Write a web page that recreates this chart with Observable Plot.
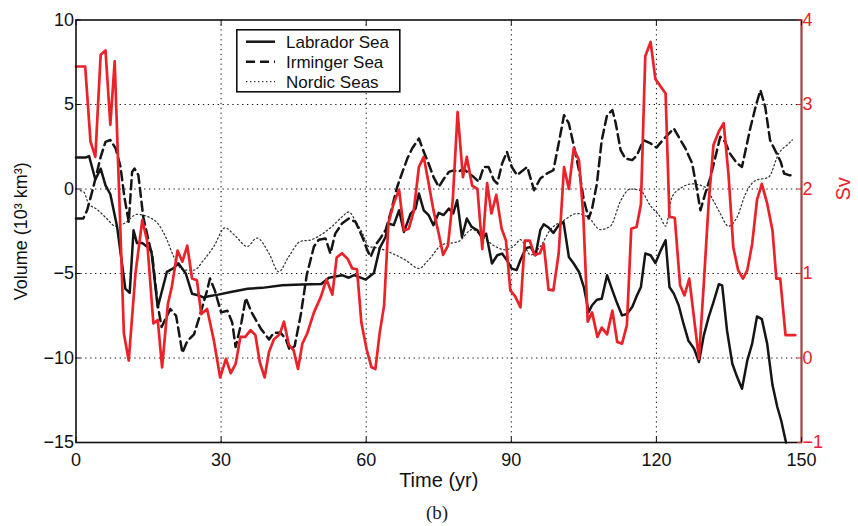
<!DOCTYPE html>
<html><head><meta charset="utf-8">
<script src="https://cdn.jsdelivr.net/npm/d3@7"></script>
<script src="https://cdn.jsdelivr.net/npm/@observablehq/plot@0.6"></script>
<style>
body{margin:0;background:#fff;}
#wrap{position:relative;width:858px;height:526px;font-family:"Liberation Sans",Arial,sans-serif;overflow:hidden;}
#legend{position:absolute;left:236px;top:29px;}
#caption{position:absolute;left:0;top:502px;width:874px;text-align:center;font-family:"Liberation Serif","DejaVu Serif",serif;font-size:19px;color:#222;}
</style></head>
<body><div id="wrap"></div>
<script>
// ---- data (time in years; volumes in 10^3 km^3; transport in Sv) ----
const xDomain = [0, 150];
const yDomain = [-15, 10];
const xTicks = [0, 30, 60, 90, 120, 150];
const xGrid = [30, 60, 90, 120];
const yTicks = [-15, -10, -5, 0, 5, 10];
const yGrid = [-10, -5, 0, 5];
const svTicks = [-1, 0, 1, 2, 3, 4];
const seriesNames = ["Labrador Sea", "Irminger Sea", "Nordic Seas"];

const labrador = [[0,1.87],[1.1,1.87],[2.1,1.87],[2.7,1.95],[4.0,0.56],[5.1,1.2],[6.1,0.22],[7.1,-0.31],[8.5,-2.24],[10.2,-5.9],[11.1,-6.15],[11.9,-2.44],[12.6,-3.2],[13.7,-3.2],[15.1,-3.5],[15.6,-3.7],[16.9,-7.0],[18.8,-4.9],[20.1,-4.7],[21.2,-4.4],[22.7,-5.0],[24.0,-6.2],[25.4,-6.3],[26.4,-6.43],[27.4,-6.35],[29.4,-6.25],[32.0,-6.1],[35.5,-5.9],[38.5,-5.85],[42.6,-5.7],[46.6,-5.65],[50.7,-5.62],[52.3,-5.25],[55.0,-5.1],[56.4,-5.25],[57.5,-5.1],[59.9,-5.36],[61.6,-4.97],[62.8,-3.5],[64.0,-2.84],[64.6,-2.04],[65.7,-2.14],[66.8,-1.26],[67.8,-2.54],[69.2,-1.45],[70.2,-1.16],[70.9,-0.27],[71.9,-1.26],[72.9,-1.54],[73.9,-2.14],[75.0,-1.41],[76.0,-1.54],[77.1,-1.16],[78.0,-1.45],[78.8,-0.66],[79.8,-2.84],[80.8,-1.75],[81.8,-2.24],[83.0,-2.44],[84.0,-2.93],[84.8,-2.64],[86.0,-4.41],[87.1,-3.92],[88.1,-3.82],[89.1,-4.22],[90.1,-4.71],[91.1,-4.8],[91.9,-4.2],[93.0,-3.5],[94.0,-3.43],[95.0,-3.92],[96.0,-2.44],[96.7,-2.09],[97.7,-2.28],[98.7,-2.6],[99.8,-2.14],[100.8,-1.95],[101.9,-4.02],[102.9,-4.41],[104.0,-4.91],[105.0,-5.8],[106.0,-7.28],[106.7,-6.88],[107.7,-6.55],[108.7,-6.5],[109.8,-5.1],[110.9,-6.0],[111.9,-6.78],[112.9,-7.48],[113.9,-7.4],[115.0,-6.98],[116.0,-6.29],[116.8,-5.8],[117.7,-3.82],[118.8,-3.92],[119.8,-4.38],[120.9,-3.63],[121.9,-3.03],[122.7,-5.8],[123.6,-6.19],[124.6,-6.88],[125.6,-7.97],[126.6,-8.96],[127.8,-9.45],[128.8,-10.24],[129.8,-8.66],[130.8,-7.58],[131.8,-6.69],[132.9,-5.64],[133.6,-5.7],[134.6,-8.37],[135.7,-10.34],[136.7,-11.13],[137.7,-11.82],[138.8,-10.14],[139.8,-9.15],[140.8,-7.54],[141.8,-7.7],[142.9,-9.15],[144.0,-11.6],[145.0,-12.9],[145.8,-13.7],[146.8,-15.0]];

const irminger = [[0,-1.75],[1.5,-1.75],[2.3,-1.26],[3.6,0.12],[5.1,1.9],[6.1,2.79],[7.1,2.9],[8.2,2.4],[9.2,1.31],[10.0,-0.47],[10.9,-1.95],[11.6,1.01],[12.1,1.21],[12.9,0.82],[13.9,-1.65],[14.9,-2.93],[15.8,-4.02],[16.9,-6.88],[17.7,-8.17],[19.5,-7.1],[20.7,-7.5],[22.0,-9.7],[23.0,-9.0],[24.4,-8.6],[25.7,-7.4],[27.1,-6.0],[27.7,-5.3],[28.7,-6.0],[30.0,-7.3],[31.3,-7.2],[32.3,-7.9],[33.0,-9.35],[34.2,-7.9],[35.1,-6.45],[36.3,-7.3],[38.3,-8.3],[39.9,-8.9],[40.9,-8.5],[42.3,-8.5],[43.4,-8.9],[44.2,-9.55],[45.2,-9.3],[46.5,-7.4],[47.7,-5.1],[49.2,-3.4],[50.2,-3.0],[51.6,-2.93],[52.6,-3.82],[53.6,-2.64],[55.0,-2.04],[56.4,-1.75],[57.8,-1.95],[59.2,-2.84],[60.2,-3.6],[60.9,-4.02],[61.9,-3.33],[62.9,-2.93],[64.0,-2.44],[65.0,-1.45],[66.4,0.12],[67.5,1.01],[68.5,1.8],[69.5,2.4],[70.9,2.99],[71.9,2.2],[72.9,1.51],[73.9,0.72],[75.0,0.12],[76.1,0.62],[77.1,1.01],[78.1,1.1],[79.1,1.01],[80.1,1.21],[81.2,0.92],[82.2,0.72],[83.3,0.42],[84.3,1.31],[85.3,1.3],[86.4,0.52],[87.1,0.32],[88.1,1.51],[89.1,2.2],[90.1,1.3],[91.2,0.82],[93.3,1.31],[94.7,-0.07],[96.0,0.62],[97.4,0.92],[98.7,1.11],[99.8,2.7],[100.9,4.37],[101.9,3.88],[102.9,2.59],[104.0,1.11],[105.0,-0.66],[106.0,-1.75],[106.7,-1.16],[107.7,0.32],[108.7,2.89],[109.8,4.37],[110.9,4.67],[111.6,3.88],[112.6,2.3],[113.6,1.8],[115.0,1.71],[116.0,2.0],[117.3,2.89],[118.8,2.7],[120.0,2.45],[121.5,2.95],[123.6,3.58],[126.0,2.4],[127.4,1.51],[128.4,-0.07],[129.1,-1.26],[130.1,-0.27],[131.2,0.72],[132.2,1.9],[133.2,3.09],[134.2,2.79],[135.2,2.1],[136.7,1.51],[137.7,1.31],[139.4,3.58],[140.5,4.86],[141.5,5.85],[142.5,4.86],[143.5,2.89],[144.7,2.2],[145.7,1.61],[146.4,0.92],[147.4,0.82],[148.1,0.82]];

const nordic = [[0.9,-0.1],[1.6,-0.17],[2.6,-0.86],[4.3,-1.2],[6.2,-1.7],[8.2,-2.2],[10.2,-2.0],[12.6,-1.5],[15.3,-1.7],[16.8,-2.0],[18.8,-3.0],[20.2,-4.0],[22.3,-4.8],[24.4,-4.8],[26.4,-4.2],[28.5,-3.4],[30.8,-2.3],[33.0,-2.8],[35.4,-3.4],[37.4,-2.9],[39.9,-3.8],[41.9,-4.9],[44.0,-4.0],[46.4,-3.1],[48.7,-3.0],[50.7,-2.7],[53.0,-2.2],[55.0,-1.65],[56.4,-1.36],[57.8,-1.9],[59.2,-2.6],[60.5,-3.4],[62.6,-3.5],[65.3,-3.8],[68.1,-4.2],[70.9,-4.7],[72.9,-4.2],[75.7,-3.3],[79.1,-3.1],[81.9,-2.4],[84.0,-2.8],[86.7,-3.4],[88.8,-3.6],[90.8,-3.3],[91.9,-3.0],[94.0,-3.9],[96.0,-3.4],[98.1,-2.4],[100.9,-1.85],[103.6,-1.45],[106.0,-1.7],[108.4,-2.4],[110.5,-2.2],[112.6,-0.7],[114.6,0.0],[116.7,-0.1],[118.8,-1.0],[120.9,-1.7],[121.9,-2.2],[123.2,-0.5],[125.3,0.1],[127.4,0.3],[130.1,0.1],[131.8,-0.7],[133.2,-1.45],[134.9,-2.2],[136.7,-1.65],[138.4,-0.3],[140.5,0.5],[143.2,0.7],[145.3,2.1],[147.4,2.7],[148.1,2.9]];

// transport, right axis (Sv)
const transport = [[0,3.45],[1.9,3.45],[3.0,2.56],[4.0,2.38],[5.1,3.59],[6.1,3.64],[7.1,2.76],[8.0,3.51],[9.9,0.29],[10.9,-0.03],[12.3,1.0],[13.7,1.63],[14.7,1.39],[16.0,0.41],[16.9,0.45],[17.8,-0.11],[19.0,0.64],[19.8,0.84],[21.0,1.27],[22.0,1.14],[23.0,1.33],[24.0,0.94],[25.0,0.92],[25.9,0.52],[27.1,0.58],[28.5,0.21],[29.8,-0.23],[31.0,-0.01],[32.0,-0.18],[33.0,-0.07],[34.0,0.25],[35.0,0.25],[36.1,0.33],[37.1,0.27],[38.0,-0.05],[39.0,-0.23],[39.9,0.07],[40.9,0.22],[42.1,0.28],[43.0,0.43],[44.0,0.16],[45.0,0.09],[45.9,-0.13],[46.8,0.17],[47.8,0.29],[49.2,0.54],[50.6,0.72],[51.8,0.93],[53.0,0.75],[53.9,1.19],[55.0,1.24],[56.2,1.17],[57.1,1.06],[58.1,1.05],[59.0,0.42],[60.1,0.1],[61.1,-0.11],[61.9,-0.13],[62.8,0.3],[63.7,0.62],[64.6,1.6],[65.7,1.83],[66.8,1.99],[67.8,1.51],[68.8,1.53],[69.8,1.73],[70.9,2.26],[71.9,2.38],[72.9,2.07],[73.9,1.75],[75.0,1.47],[75.9,1.22],[76.9,1.33],[77.9,1.87],[78.9,2.91],[80.0,2.14],[80.8,2.38],[81.9,2.04],[83.0,2.0],[84.0,1.29],[85.0,2.07],[85.9,1.71],[86.9,1.93],[88.0,1.53],[88.9,1.39],[89.8,0.8],[90.8,0.73],[91.9,0.6],[92.8,1.39],[93.8,1.39],[94.8,1.22],[95.9,1.24],[96.7,1.35],[97.7,0.81],[98.7,0.8],[99.8,1.24],[100.9,2.26],[101.9,2.0],[102.9,2.48],[104.0,2.34],[104.9,1.67],[105.8,0.43],[106.7,0.54],[107.8,0.25],[108.7,0.36],[109.8,0.28],[110.9,0.56],[111.9,0.19],[112.9,0.17],[113.9,0.39],[114.8,1.53],[115.9,1.55],[116.8,1.82],[117.7,3.57],[118.8,3.74],[119.8,3.3],[121.9,3.13],[122.7,1.67],[123.8,1.66],[124.9,0.86],[125.8,0.74],[126.8,0.94],[128.8,-0.01],[129.8,0.88],[130.8,1.83],[131.8,2.52],[132.9,2.68],[133.9,2.78],[134.9,2.18],[135.9,1.31],[136.9,1.04],[137.9,0.94],[138.8,1.04],[139.8,1.35],[140.8,1.87],[141.8,2.06],[142.9,1.83],[144.0,1.51],[144.8,0.94],[145.6,0.94],[146.7,0.27],[148.7,0.27]];

// ---- drawing ----
const RED = "#ea2229";
const svToV = s => 5 * s - 10;   // right axis (-1..4 Sv) shares the left scale (-15..10)
const vToSv = v => (v + 10) / 5;
const fmt = d => (d < 0 ? "\u2212" + Math.abs(d) : String(d));
const X = d => d[0], Y = d => d[1];
const DOT = "1.4,2.6";

const chart = Plot.plot({
  width: 858, height: 496,
  marginLeft: 75.5, marginRight: 57, marginTop: 19.5, marginBottom: 54,
  style: {fontFamily: "'Liberation Sans', Arial, sans-serif", fontSize: "18px", color: "#111", background: "transparent", overflow: "visible"},
  x: {domain: xDomain, label: null},
  y: {domain: yDomain, label: null},
  marks: [
    Plot.gridX(xGrid, {stroke: "#111", strokeOpacity: 1, strokeWidth: 1, strokeDasharray: "1.3,3.6"}),
    Plot.gridY(yGrid, {stroke: "#111", strokeOpacity: 1, strokeWidth: 1, strokeDasharray: "1.3,3.6"}),
    Plot.line(nordic, {x: X, y: Y, stroke: "#333", strokeWidth: 1.25, strokeDasharray: DOT, curve: "monotone-x"}),
    Plot.line(irminger, {x: X, y: Y, stroke: "#151515", strokeWidth: 2.5, strokeDasharray: "9,5"}),
    Plot.line(labrador, {x: X, y: Y, stroke: "#151515", strokeWidth: 2.5}),
    Plot.line(transport, {x: X, y: d => svToV(d[1]), stroke: RED, strokeWidth: 2.7}),
    Plot.frame({stroke: "#111", strokeWidth: 1.6}),
    Plot.ruleX([xDomain[1]], {stroke: RED, strokeWidth: 1.6}),
    Plot.axisX(xTicks, {anchor: "bottom", tickSize: -5, tickPadding: 16, tickFormat: fmt, fontSize: 18, label: null}),
    Plot.axisX(xTicks, {anchor: "bottom", tickSize: 0, text: null, label: "Time (yr)", labelAnchor: "center", labelArrow: "none", labelOffset: 44, fontSize: 20}),
    Plot.axisX(xTicks, {anchor: "top", tickSize: -5, text: null, label: null}),
    Plot.axisY(yTicks, {anchor: "left", tickSize: -5, tickPadding: 7, tickFormat: fmt, label: "Volume (10\u00b3 km\u00b3)", labelAnchor: "center", labelArrow: "none", labelOffset: 62, fontSize: 18}),
    Plot.axisY(svTicks.map(svToV), {anchor: "right", tickSize: -5, tickPadding: 6, color: RED, tickFormat: v => fmt(vToSv(v)), label: null, fontSize: 18}),
    Plot.text(["Sv"], {frameAnchor: "right", dx: 42, dy: -54, rotate: -90, fill: RED, fontSize: 20})
  ]
});
const wrap = document.getElementById("wrap");
wrap.appendChild(chart);

// legend box
const lg = d3.select(wrap).append("svg").attr("id", "legend").attr("width", 166).attr("height", 65);
lg.append("rect").attr("x", 0.8).attr("y", 0.8).attr("width", 163).attr("height", 62).attr("fill", "#fff").attr("stroke", "#111").attr("stroke-width", 1.6);
const styles = [
  {dash: null, w: 2.5, c: "#151515"},
  {dash: "9,5", w: 2.5, c: "#151515"},
  {dash: DOT, w: 1.25, c: "#333"}
];
seriesNames.forEach((name, i) => {
  const yy = 12.7 + i * 20;
  const ln = lg.append("line").attr("x1", 10).attr("x2", 39).attr("y1", yy).attr("y2", yy)
    .attr("stroke", styles[i].c).attr("stroke-width", styles[i].w);
  if (styles[i].dash) ln.attr("stroke-dasharray", styles[i].dash);
  lg.append("text").attr("x", 50).attr("y", yy).attr("dy", "0.35em")
    .attr("font-family", "'Liberation Sans', Arial, sans-serif").attr("font-size", 17).attr("fill", "#111").text(name);
});

const cap = document.createElement("div");
cap.id = "caption"; cap.textContent = "(b)";
wrap.appendChild(cap);
</script>
</body></html>
